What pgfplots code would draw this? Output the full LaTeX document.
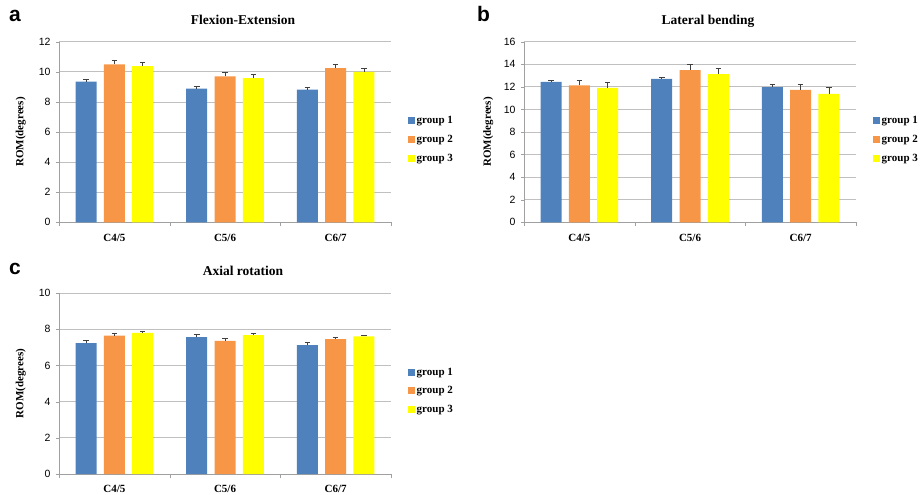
\documentclass[border=0pt]{standalone}
\usepackage{fontspec}
\setmainfont{Liberation Serif}
\newfontfamily\arial{Liberation Sans}
\usepackage{pgfplots}
\usepackage{pgfplotstable}
\pgfplotsset{compat=1.18}
\definecolor{gA}{HTML}{4F81BD}
\definecolor{gB}{HTML}{F79646}
\definecolor{gC}{HTML}{FFFF00}
\definecolor{gridc}{HTML}{C0C0C0}
\definecolor{axc}{HTML}{A0A0A0}
\definecolor{errc}{HTML}{404040}

\pgfplotstableread{
x g1 e1 g2 e2 g3 e3
0 9.35 0.17 10.50 0.25 10.37 0.24
1 8.88 0.16 9.70 0.26 9.58 0.25
2 8.82 0.14 10.25 0.24 10.00 0.22
}\flex
\pgfplotstableread{
x g1 e1 g2 e2 g3 e3
0 12.43 0.18 12.12 0.50 11.90 0.50
1 12.70 0.18 13.48 0.50 13.12 0.53
2 11.98 0.20 11.73 0.53 11.37 0.55
}\lat
\pgfplotstableread{
x g1 e1 g2 e2 g3 e3
0 7.23 0.16 7.65 0.10 7.80 0.08
1 7.56 0.16 7.36 0.12 7.67 0.08
2 7.12 0.14 7.45 0.12 7.60 0.06
}\axial

\pgfplotsset{
  sqlegend/.style={legend image code/.code={\fill[##1,draw=none] (0bp,-3.5bp) rectangle (7bp,3.5bp);}},
  panel/.style={
    scale only axis, width=332bp,
    ybar=7.3bp, bar width=21bp,
    xmin=-0.5, xmax=2.5, ymin=0,
    xtick={0,1,2}, xticklabels={C4/5,C5/6,C6/7},
    minor xtick={-0.5,0.5,1.5,2.5},
    every major x tick/.style={draw=none},
    every minor x tick/.style={draw=axc},
    minor tick length=4bp,
    major tick length=3bp,
    tick align=outside,
    ytick style={draw=axc},
    axis x line*=bottom, axis y line*=left,
    axis line style={draw=axc},
    ymajorgrids, grid style={draw=gridc, line width=0.8bp},
    /pgf/number format/assume math mode=true,
    yticklabel style={font=\arial\fontsize{10.5bp}{12bp}\selectfont, xshift=-2bp},
    xticklabel style={font=\bfseries\fontsize{11bp}{13bp}\selectfont, yshift=-5bp},
    ylabel={ROM(degrees)},
    ylabel style={font=\bfseries\fontsize{11bp}{13bp}\selectfont, at={(axis description cs:-0.115,0.5)}, anchor=center},
    title style={font=\bfseries\fontsize{13.5bp}{15bp}\selectfont, at={(axis description cs:0.5,1)}, anchor=base, xshift=18bp, yshift=11.5bp},
    legend style={draw=none, fill=none, at={(1,0.5)}, anchor=west, xshift=17bp, yshift=-7.5bp,
      font=\bfseries\fontsize{11bp}{13bp}\selectfont, row sep=7bp, inner sep=0pt,
      nodes={inner sep=1.5bp}},
    legend cell align=left,
    error bars/y dir=plus, error bars/y explicit,
    error bars/error bar style={draw=errc, line width=0.7bp},
    error bars/error mark options={rotate=90, mark size=2.8bp, draw=errc, line width=0.7bp},
  },
}

\begin{document}
\begin{tikzpicture}
\useasboundingbox (0,0) rectangle (921bp,-495bp);

\begin{axis}[panel, at={(59bp,-41.7bp)}, anchor=north west, height=180.6bp,
  ymax=12, ytick={0,2,...,12}, title={Flexion-Extension}]
\addplot[fill=gA, draw=none, sqlegend] table[x=x, y=g1, y error=e1] {\flex};
\addplot[fill=gB, draw=none, sqlegend] table[x=x, y=g2, y error=e2] {\flex};
\addplot[fill=gC, draw=none, sqlegend] table[x=x, y=g3, y error=e3] {\flex};
\legend{group 1, group 2, group 3}
\end{axis}

\begin{axis}[panel, at={(524bp,-41.7bp)}, anchor=north west, height=180.6bp,
  ymax=16, ytick={0,2,...,16}, title={Lateral bending},
  ylabel style={at={(axis description cs:-0.108,0.5)}}]
\addplot[fill=gA, draw=none, sqlegend] table[x=x, y=g1, y error=e1] {\lat};
\addplot[fill=gB, draw=none, sqlegend] table[x=x, y=g2, y error=e2] {\lat};
\addplot[fill=gC, draw=none, sqlegend] table[x=x, y=g3, y error=e3] {\lat};
\legend{group 1, group 2, group 3}
\end{axis}

\begin{axis}[panel, at={(59bp,-293bp)}, anchor=north west, height=181bp,
  ymax=10, ytick={0,2,...,10}, title={Axial rotation}]
\addplot[fill=gA, draw=none, sqlegend] table[x=x, y=g1, y error=e1] {\axial};
\addplot[fill=gB, draw=none, sqlegend] table[x=x, y=g2, y error=e2] {\axial};
\addplot[fill=gC, draw=none, sqlegend] table[x=x, y=g3, y error=e3] {\axial};
\legend{group 1, group 2, group 3}
\end{axis}

\node[anchor=base west, inner sep=0pt, font=\arial\bfseries\fontsize{21bp}{24bp}\selectfont] at (9bp,-21bp) {a};
\node[anchor=base west, inner sep=0pt, font=\arial\bfseries\fontsize{21bp}{24bp}\selectfont] at (477bp,-21bp) {b};
\node[anchor=base west, inner sep=0pt, font=\arial\bfseries\fontsize{21bp}{24bp}\selectfont] at (9bp,-274.3bp) {c};
\end{tikzpicture}
\end{document}
